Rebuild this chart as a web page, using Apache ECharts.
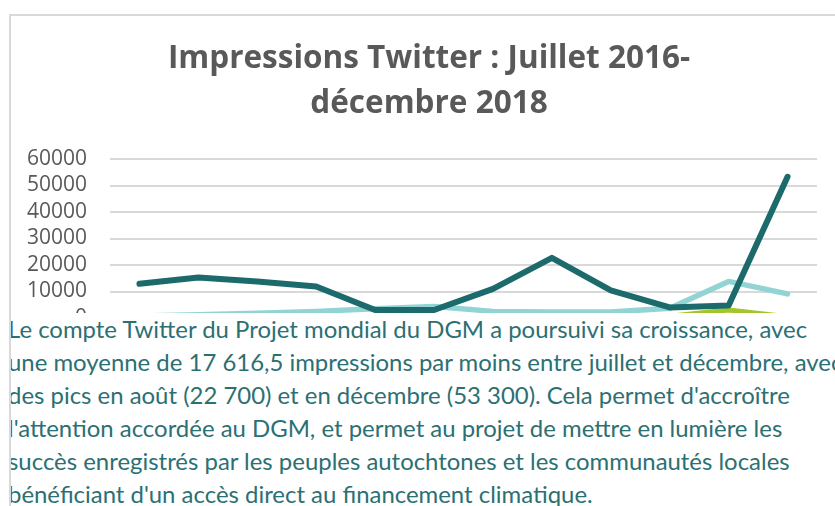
<!DOCTYPE html>
<html>
<head>
<meta charset="utf-8">
<script src="https://cdn.jsdelivr.net/npm/echarts@6/dist/echarts.min.js"></script>
<style>
  html, body { margin: 0; padding: 0; background: #fff; }
  #wrap { position: relative; width: 835px; height: 506px; overflow: hidden; }
  #frame { position: absolute; left: 9px; top: 14px; width: 840px; height: 520px; border: 2px solid #d9d9d9; box-sizing: border-box; }
  #chart { position: absolute; left: 0; top: 0; width: 835px; height: 506px; }
  #note {
    position: absolute; left: 11px; top: 313px; width: 824px; height: 193px;
    background: #fff; overflow: hidden;
    font-family: Lato, "Open Sans", sans-serif; font-size: 23px; line-height: 33px;
    color: #2b7073; white-space: nowrap;
  }
  #note div { transform-origin: 0 0; transform: scaleX(1.04); margin-left: -3px; }
</style>
</head>
<body>
<div id="wrap">
  <div id="frame"></div>
  <div id="chart"></div>
  <div id="note">
    <div>Le compte Twitter du Projet mondial du DGM a poursuivi sa croissance, avec</div>
    <div>une moyenne de 17 616,5 impressions par moins entre juillet et décembre, avec</div>
    <div>des pics en août (22 700) et en décembre (53 300). Cela permet d'accroître</div>
    <div>l'attention accordée au DGM, et permet au projet de mettre en lumière les</div>
    <div>succès enregistrés par les peuples autochtones et les communautés locales</div>
    <div>bénéficiant d'un accès direct au financement climatique.</div>
  </div>
</div>
<script>
// mois (axe des x, masqué sous le texte)
const months = ['janv.', 'févr.', 'mars', 'avr.', 'mai', 'juin', 'juil.', 'août', 'sept.', 'oct.', 'nov.', 'déc.'];
const yTicks = [0, 10000, 20000, 30000, 40000, 50000, 60000];
// impressions par année
const y2016 = [null, null, null, null, null, null, 300, 400, 500, 700, 3000, 500];
const y2017 = [800, 1200, 1800, 2500, 3500, 4300, 2500, 2300, 2300, 3700, 13800, 9100];
const y2018 = [12900, 15300, 13800, 11900, 3000, 3000, 11000, 22700, 10400, 4000, 4700, 53300];

let chart = echarts.init(document.getElementById('chart'), null, {renderer: 'canvas'});

const lineSerie = (name, data, color, width) => ({
  name: name,
  type: 'line',
  data: data,
  symbol: 'none',
  smooth: false,
  connectNulls: false,
  lineStyle: {color: color, width: width, cap: 'round', join: 'round'},
  itemStyle: {color: color}
});

let option = {
  animation: false,
  title: {
    text: 'Impressions Twitter : Juillet 2016-\ndécembre 2018',
    left: 429,
    top: 32,
    textAlign: 'center',
    textStyle: {
      fontFamily: 'Open Sans',
      fontWeight: 'bold',
      fontSize: 31.5,
      lineHeight: 45,
      color: '#595959'
    }
  },
  legend: {show: false},
  grid: {left: 110, right: 18, top: 159, bottom: 188, containLabel: false},
  xAxis: {
    type: 'category',
    data: months,
    boundaryGap: true,
    axisLine: {show: false},
    axisTick: {show: false},
    axisLabel: {show: false}
  },
  yAxis: {
    type: 'value',
    min: yTicks[0],
    max: yTicks[yTicks.length - 1],
    interval: 10000,
    axisLine: {show: false},
    axisTick: {show: false},
    axisLabel: {
      color: '#595959',
      fontFamily: 'Open Sans',
      fontSize: 21,
      margin: 23,
      formatter: v => String(v)
    },
    splitLine: {lineStyle: {color: '#d9d9d9', width: 2}}
  },
  series: [
    lineSerie('2016', y2016, '#a2c62c', 5),
    lineSerie('2017', y2017, '#92d4d3', 5.5),
    lineSerie('2018', y2018, '#1c6a6c', 6)
  ]
};

// le titre est un peu décalé à gauche dans l'original
option.title.left = 424;

chart.setOption(option);
</script>
</body>
</html>
